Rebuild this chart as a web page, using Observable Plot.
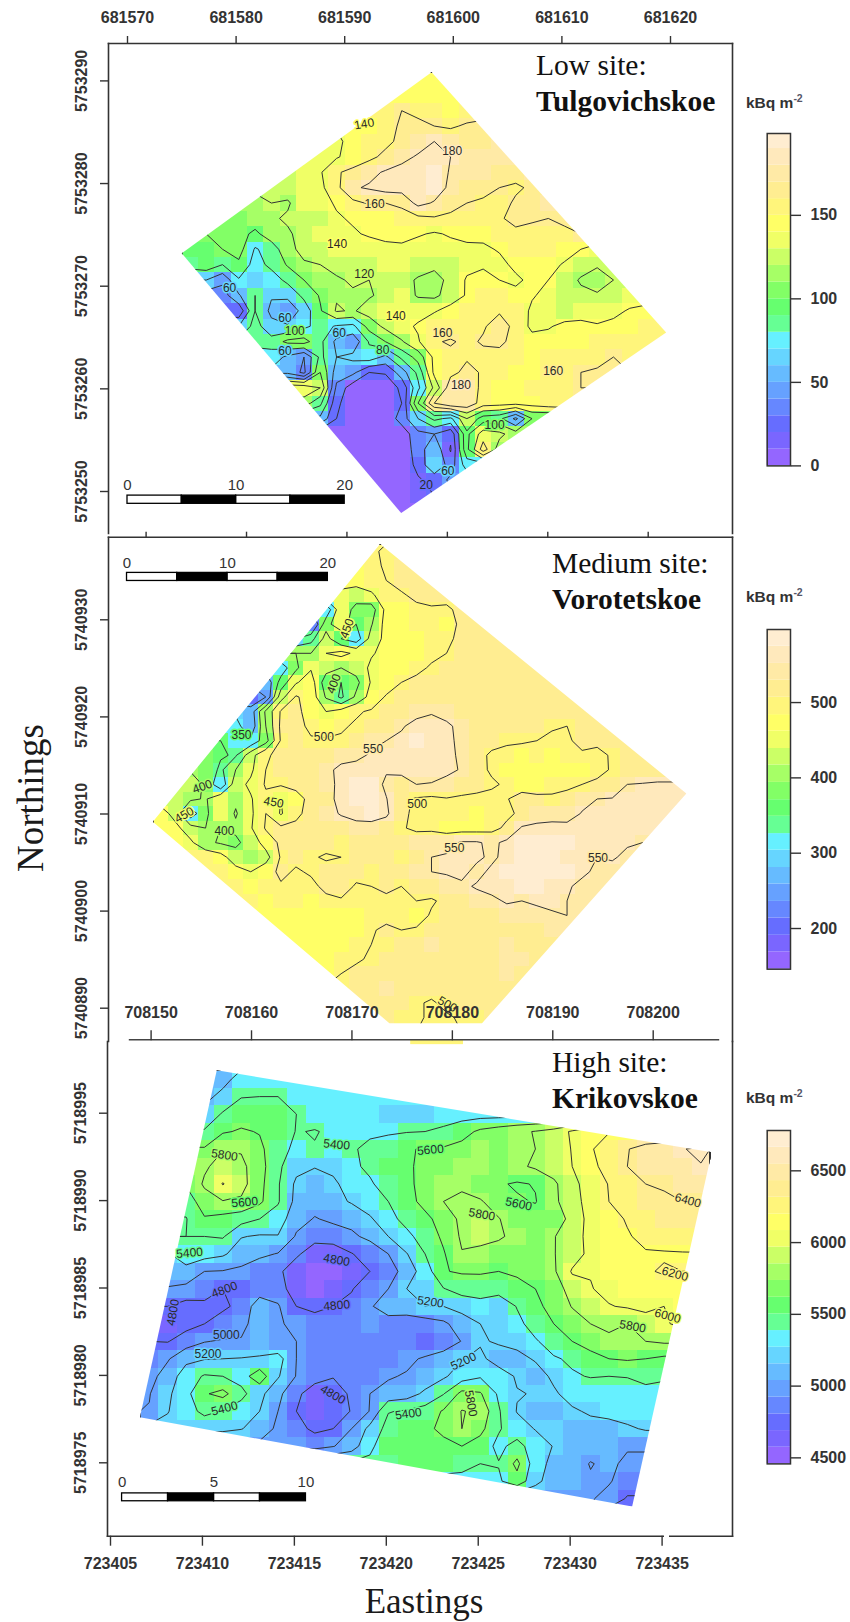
<!DOCTYPE html>
<html><head><meta charset="utf-8">
<script src="https://cdn.jsdelivr.net/npm/d3@7"></script>
<script src="https://cdn.jsdelivr.net/npm/@observablehq/plot@0.6"></script>
<style>
html,body{margin:0;padding:0;background:#fff}
#page{position:relative;width:850px;height:1622px;overflow:hidden;background:#fff}
#page svg{position:absolute;overflow:visible}
.t{position:absolute;white-space:nowrap;font-family:"Liberation Serif",serif;color:#1a1a1a;line-height:1}
.u{position:absolute;white-space:nowrap;font-family:"Liberation Sans",sans-serif;font-weight:bold;font-size:15.5px;color:#333;line-height:16px}
.u sup{font-size:10.5px;line-height:0;color:#556}
</style></head><body><div id="page"></div>
<script>
// colour key, 20 classes
const palette = ["#9466FF","#7A66FF","#666DFF","#6687FF","#66A1FF","#66BBFF","#66D5FF","#66F0FF","#66FF94","#66FF6F","#82FF66","#A6FF66","#CBFF66","#F0FF66","#FFFF66","#FFF57B","#FFED91","#FFEAA6","#FFE9BC","#FFEDD1"];
const lowBreaks = [0,10,20,30,40,50,60,70,80,90,100,110,120,130,140,150,160,170,180,190,199];
const medBreaks = [146,169,191,214,236,259,281,304,326,349,371,394,417,439,462,484,507,530,552,575,597];
const highBreaks = [4458,4574,4690,4806,4923,5039,5155,5271,5387,5503,5619,5736,5852,5968,6084,6200,6316,6432,6549,6665,6781];
const lowKeyTicks = [0,50,100,150];
const medKeyTicks = [200,300,400,500];
const highKeyTicks = [4500,5000,5500,6000,6500];
const lowLevels = [20,40,60,80,100,120,140,160,180];
const medLevels = [200,250,300,350,400,450,500,550];
const highLevels = [4800,5000,5200,5400,5600,5800,6000,6200,6400,6600];

// axis ticks
const lowEast = [681570,681580,681590,681600,681610,681620];
const lowNorth = [5753290,5753280,5753270,5753260,5753250];
const medEast = [708150,708160,708170,708180,708190,708200];
const medNorth = [5740930,5740920,5740910,5740900,5740890];
const highEast = [723405,723410,723415,723420,723425,723430,723435];
const highNorth = [5718995,5718990,5718985,5718980,5718975];

// Low site: kBq/m2 on a 1.5 m grid, north to south; each row begins at column lowStarts[r]
const lowStarts = [14,13,12,10,9,8,6,5,4,2,1,0,0,1,2,3,3,4,5,6,7,7,8,9,10,11,11,12,13];
const lowRows = [
[145,148],
[142,148,140,146],
[150,160,158,150,148,152],
[142,148,155,162,162,160,158,162,165],
[135,148,150,155,165,172,180,170,168,168,170],
[132,138,148,155,165,175,182,188,180,172,170,170,172],
[128,132,138,158,165,175,182,186,186,192,178,172,170,168,165,170],
[125,128,132,135,155,178,182,188,188,188,192,175,168,168,160,158,162],
[112,120,118,130,134,142,155,162,160,165,186,178,168,160,156,155,162,168,172],
[105,108,112,118,122,128,126,138,142,140,148,150,155,158,155,152,150,158,165,162,160,162],
[100,105,108,95,112,118,125,130,135,138,142,145,143,142,138,142,145,146,158,156,155,155,158,160],
[95,98,100,108,78,88,115,125,128,135,134,132,135,138,132,130,134,136,136,142,150,150,150,148,140,130],
[88,92,80,96,72,85,102,118,120,125,128,128,136,130,128,125,128,135,138,134,145,148,146,138,128,122,125],
[60,45,78,68,70,85,100,112,118,122,120,128,126,118,112,126,142,145,140,136,145,140,128,118,112,120],
[30,58,80,62,65,85,102,118,118,118,125,130,118,116,128,142,150,150,146,142,134,128,124,122,128,130],
[25,80,55,45,68,98,122,118,128,132,134,134,138,148,150,152,158,154,136,130,128,132,130,135,142,146],
[60,88,66,62,75,88,78,75,108,125,135,142,155,150,155,158,168,155,135,138,145,145,142,145,148,155,150],
[85,88,105,108,85,55,45,82,100,118,138,158,162,156,162,165,152,148,148,148,146,152,150,158,155],
[72,55,40,85,60,65,72,55,85,108,145,155,158,155,152,150,148,155,150,150,155,160,158],
[55,35,100,50,45,20,22,50,85,145,155,165,158,150,148,148,155,158,160,162,160],
[135,120,35,8,5,5,25,75,125,172,172,155,148,148,150,155,158,160],
[110,85,25,5,3,3,20,100,160,178,175,150,148,146,148,152,155],
[55,20,5,3,3,30,60,85,75,120,90,85,55,100],
[5,3,3,4,6,35,40,25,95,130,125,110],
[3,3,3,6,30,55,18,95,150,110],
[3,3,8,25,60,30,70],
[3,3,8,18,25,45],
[3,5,12,20],
[3]];
const lowCorners = [[681598.0,5753290.85],[681619.6,5753265.5],[681595.2,5753247.9],[681575.0,5753273.2]];
// [easting, northing, contour level, rotation]
const lowLabels = [[681591.8,5753285.8,140,-10],[681592.75,5753278.0,160,0],[681599.9,5753283.2,180,0],[681589.3,5753274.1,140,0],[681591.8,5753271.2,120,0],[681594.7,5753267.1,140,0],[681599.0,5753265.4,160,0],[681579.4,5753269.8,60,0],[681584.5,5753266.9,60,0],[681585.4,5753265.6,100,0],[681584.5,5753263.7,60,0],[681593.5,5753263.8,80,0],[681589.5,5753265.4,60,0],[681600.7,5753260.4,180,0],[681609.2,5753261.7,160,0],[681603.8,5753256.5,100,0],[681597.5,5753250.6,20,0],[681599.5,5753252.0,60,0]];

// Medium site
const medStarts = [14,13,13,12,11,10,9,9,8,7,6,5,5,4,3,2,2,1,0,0,1,2,3,4,6,7,8,9,10,11,12,14,15,16,17];
const medRows = [
[495,505],
[470,490,505,515],
[465,485,500,515,520,518],
[440,430,440,485,495,510,515,520],
[310,440,380,375,465,480,490,495,490,515],
[230,380,440,350,395,470,480,485,485,480,510,515],
[300,330,420,350,320,420,465,475,480,490,490,512,518,520],
[400,400,450,465,440,445,465,475,480,490,500,515,515,520,522],
[320,390,445,420,400,420,460,470,475,490,505,510,515,518,518,520,522,522],
[260,370,445,475,370,350,385,455,475,500,510,515,512,515,518,520,520,522,522,525],
[210,250,430,505,480,395,340,410,470,505,512,515,518,520,522,522,522,522,524,524,525,525],
[290,270,410,505,512,480,450,470,495,505,512,520,535,545,530,525,525,525,522,525,525,525,525,525],
[320,260,400,510,515,490,480,495,505,515,525,545,565,570,560,535,525,522,515,510,515,505,500,515,522],
[350,325,310,380,505,515,505,505,505,525,540,550,560,575,570,570,530,520,510,505,505,500,490,495,510,510,520,525],
[385,355,345,430,495,510,518,518,525,535,540,555,562,570,570,565,565,540,510,495,490,480,485,480,490,495,488,505,520,525],
[395,385,340,400,440,500,510,520,525,540,560,565,560,555,565,565,565,565,545,512,495,480,480,470,470,472,470,485,505,520,525,525],
[430,390,310,430,460,505,505,515,520,530,565,578,578,540,525,550,548,530,525,515,505,495,482,478,490,490,500,510,520,550,552,555,555],
[425,410,395,440,410,445,490,450,480,515,525,572,585,580,552,510,495,490,498,492,490,490,498,515,510,505,515,540,550,552,560,555,560,560,560],
[475,430,320,390,440,395,440,500,445,490,515,530,555,570,575,558,510,490,490,485,490,480,488,490,510,530,530,535,552,555,558,560,558,558,555],
[480,465,420,400,400,410,445,505,510,510,520,525,520,530,530,525,505,490,490,480,480,480,485,510,555,560,565,560,565,560,560,555,560,558],
[480,460,410,395,390,420,470,510,515,520,515,505,515,525,525,525,530,535,535,555,555,540,560,585,590,580,578,565,560,565,555,550],
[490,490,470,420,400,430,505,510,505,495,500,510,520,515,500,525,550,555,560,560,540,565,585,590,590,570,555,550,555,540],
[490,495,470,450,480,510,495,505,515,520,515,505,515,515,530,550,555,565,535,560,580,585,590,590,575,565,535,535],
[495,490,475,490,495,495,490,510,520,495,500,510,500,515,525,530,540,555,565,570,575,575,565,560,530,530],
[485,480,490,485,480,490,495,495,485,490,490,500,495,510,525,530,540,555,550,560,560,550,535],
[470,480,475,480,480,480,480,490,485,490,480,505,515,525,525,525,530,540,530,545,550,535],
[475,470,470,475,475,480,495,510,500,505,515,520,520,520,525,520,520,525,535,535],
[470,470,470,480,490,500,505,510,520,535,520,520,520,520,530,520,525,510],
[465,475,485,495,505,510,510,515,518,518,518,520,520,535,530,515],
[475,500,510,510,515,525,515,515,515,515,515,515,530,525],
[505,510,515,530,515,515,515,515,515,515,515,515],
[510,512,512,505,495,510,512,512,512],
[510,505,505,495,495,505,505,510],
[505,500,495,495,500,505],
[490,490,490,490]];
const medCorners = [[708173.3,5740937.8],[708203.8,5740912.1],[708183.45,5740888.45],[708174.23,5740888.45],[708150.67,5740909.2]];
const medSliver = [[708176.3,5740886.72],[708181.56,5740886.72],[708181.56,5740886.3],[708176.3,5740886.3]];
const medLabels = [[708167.7,5740917.9,500,0],[708172.6,5740916.7,550,0],[708159.5,5740918.1,350,0],[708155.6,5740912.8,400,-20],[708153.8,5740909.9,450,-30],[708157.8,5740908.2,400,0],[708162.7,5740911.2,450,10],[708177.0,5740911.0,500,0],[708180.7,5740906.5,550,0],[708195.0,5740905.5,550,0],[708180.0,5740890.4,500,30],[708168.7,5740923.4,400,-70],[708170.0,5740929.1,450,-70]];

// High site: 1 m grid
const highStarts = [4,3,3,3,3,3,2,2,2,2,1,1,1,1,1,0,0,0,0,0,3,8,13,18,24];
const highRows = [
[5130,5280,5300],
[5140,5260,5390,5400,5400,5300,5300,5290,5290,5290],
[5270,5420,5520,5570,5560,5400,5320,5290,5290,5290,5230,5230,5230,5280,5320],
[5420,5580,5620,5590,5530,5390,5410,5370,5370,5385,5385,5390,5400,5450,5520,5640,5700,5760,5810,5880,6030,6190],
[5620,5790,5780,5640,5480,5350,5390,5350,5390,5420,5460,5580,5620,5620,5670,5780,5730,5750,5800,5890,6010,6180,6300,6390,6480,6520,6590,6640],
[5770,5880,5850,5680,5440,5260,5210,5250,5370,5430,5510,5570,5650,5700,5760,5770,5720,5760,5830,5900,6000,6150,6270,6400,6500,6510,6540,6590],
[5620,5830,6010,5870,5660,5420,5160,5100,5160,5290,5380,5470,5560,5660,5790,5760,5680,5620,5580,5610,5760,5950,6080,6210,6310,6400,6420,6460,6470],
[5480,5710,5790,5770,5640,5420,5140,5060,5130,5220,5320,5400,5530,5660,5800,5850,5820,5700,5620,5590,5750,5940,6060,6200,6300,6350,6370,6400,6420],
[5390,5580,5530,5480,5400,5310,5060,4990,5030,5050,5170,5350,5450,5550,5680,5850,5870,5810,5690,5680,5640,5890,6060,6160,6210,6270,6320,6340,6340],
[5400,5400,5420,5210,5180,5190,4980,4900,4920,4970,5040,5200,5360,5470,5640,5830,5870,5830,5740,5700,5790,5900,6070,6130,6190,6230,6250,6280,6300],
[5180,5320,5280,5230,5100,5040,4990,4850,4640,4650,4790,4890,5000,5190,5400,5580,5790,5740,5700,5640,5650,5790,5910,6050,6110,6170,6190,6190,6190],
[5070,5130,5000,4990,4960,4880,4860,4630,4500,4530,4680,4800,4890,5100,5290,5590,5620,5620,5600,5620,5640,5770,6020,6010,6090,6130,6190,6210,6200],
[4990,4950,4840,4800,4800,4870,4900,4680,4560,4650,4790,4890,5000,5200,5270,5390,5480,5500,5480,5560,5600,5680,5900,5990,6050,6100,6130,6160,6150],
[4800,4720,4780,4780,4830,5140,5020,4800,4750,4800,4840,4980,5090,5120,5200,5200,5270,5320,5260,5410,5550,5670,5810,5960,5990,6020,6060,6000,6090],
[4680,4730,4800,4850,4930,5120,5020,4960,4890,4900,4920,4990,4920,4880,4900,4960,5100,5200,5240,5350,5480,5600,5710,5800,5820,5800,5890,5980,6040],
[4800,4790,4900,4990,5020,5020,5050,5020,5000,4900,4900,4870,4870,4830,4830,4800,4860,5010,5180,5220,5260,5380,5490,5600,5660,5780,5780,5800,5830],
[4870,4980,5150,5190,5200,5210,5230,5280,5000,4890,4880,4870,4830,4830,4950,5030,5110,5190,5240,5120,5140,5220,5380,5430,5550,5600,5620,5600,5560],
[4930,5090,5300,5420,5400,5320,5510,5220,4990,4890,4810,4880,4900,4980,5020,5080,5170,5300,5380,5290,5180,5110,5240,5380,5410,5400,5410,5500,5440],
[4990,5160,5340,5580,5660,5460,5260,5050,4850,4680,4710,4830,5000,5070,5110,5240,5390,5660,5620,5370,5210,5190,5170,5280,5290,5300,5290,5290,5300],
[5010,5190,5320,5450,5390,5300,5200,5000,4800,4660,4700,4810,5010,5390,5420,5480,5620,5810,5760,5420,5190,5120,5120,5170,5230,5280,5290,5300],
[5260,5250,5210,5110,4960,4860,4760,4800,5000,5260,5470,5540,5540,5660,5800,5660,5420,5290,5190,5160,5130,5120,5100,5170,5220],
[4950,4920,4990,5100,5360,5520,5570,5570,5530,5600,5510,5350,5470,5300,5190,5120,5080,5060,5020,5010],
[5440,5560,5550,5530,5490,5400,5410,5650,5290,5140,5080,4990,5040,4960,4980],
[5310,5370,5530,5260,5090,5100,5020,5020,4900],
[5020,4930,4780]];
const highCorners = [[723410.78,5718997.45],[723437.7,5718992.77],[723433.37,5718972.5],[723406.6,5718977.6]];
const highLabels = [[723411.2,5718992.6,5800,8],[723412.3,5718989.9,5600,-5],[723409.3,5718987.0,5400,-5],[723417.3,5718993.2,5400,5],[723422.4,5718992.9,5600,-5],[723425.2,5718989.2,5800,10],[723427.2,5718989.8,5600,12],[723417.3,5718986.6,4800,10],[723417.3,5718984.0,4800,-5],[723411.2,5718984.9,4800,-20],[723422.4,5718984.2,5200,8],[723411.3,5718982.3,5000,0],[723410.3,5718981.2,5200,0],[723411.2,5718978.1,5400,-15],[723417.1,5718978.9,4800,30],[723424.2,5718980.8,5200,-25],[723421.2,5718977.8,5400,-8],[723424.6,5718978.4,5800,80],[723433.4,5718982.8,5800,10],[723435.3,5718983.4,6000,15],[723435.7,5718985.8,6200,15],[723436.4,5718990.0,6400,15],[723408.4,5718983.6,4800,-80]];

// map-scale segments, metres
const lowScaleStops = [0,5,10,15,20];
const medScaleStops = [0,5,10,15,20];
const highScaleStops = [0,2.5,5,7.5,10];
const lowScaleText = [0,10,20];
const medScaleText = [0,10,20];
const highScaleText = [0,5,10];

const page = document.getElementById("page");
const ink = "#333";
const sans = "Liberation Sans, Arial, sans-serif";
const axisText = {fontSize:16, fontWeight:"bold", fontFamily:sans, color:ink, stroke:ink};

function expand(rows, starts, W) {
  const out = [];
  rows.forEach((row, r) => {
    const s = starts[r];
    for (let c = 0; c < W; c++) {
      const i = Math.min(row.length - 1, Math.max(0, c - s));
      out.push(row[i]);
    }
  });
  return out;
}
let clipN = 0;
const clipTo = polys => (index, scales, values, dims, context, next) => {
  const g = next(index, scales, values, dims, context);
  const id = "site-clip-" + (++clipN);
  const cp = d3.create("svg:clipPath").attr("id", id);
  for (const p of polys) cp.append("polygon").attr("points", p.map(([x, y]) => scales.x(x) + "," + scales.y(y)).join(" "));
  g.insertBefore(cp.node(), g.firstChild);
  g.setAttribute("clip-path", "url(#" + id + ")");
  return g;
};
const colorOf = breaks => ({type:"threshold", domain:breaks.slice(1, -1), range:palette});

function mapMarks({rows, starts, W, x1, y1, cell, polys, levels, labels, stops, stopText, barE, barN1, barN2, textN}) {
  const H = rows.length, v = expand(rows, starts, W);
  const bounds = {width:W, height:H, x1, y1, x2:x1 + W*cell, y2:y1 - H*cell};
  const segs = d3.pairs(stops);
  return [
    Plot.raster(v, {...bounds, fill:d => d, imageRendering:"pixelated", render:clipTo(polys)}),
    Plot.contour(v, {...bounds, value:d => d, thresholds:levels, fill:"none", stroke:"#333", strokeWidth:1, render:clipTo(polys)}),
    Plot.text(labels, {x:d => d[0], y:d => d[1], text:d => String(d[2]), rotate:d => d[3], fontSize:12, fontFamily:sans, fill:"#2a2a2a", stroke:d => d[2], strokeWidth:3}),
    Plot.rect(segs.filter((d, i) => i % 2 === 0), {x1:d => barE + d[0], x2:d => barE + d[1], y1:() => barN1, y2:() => barN2, fill:"white", stroke:"black", strokeWidth:1.3}),
    Plot.rect(segs.filter((d, i) => i % 2 === 1), {x1:d => barE + d[0], x2:d => barE + d[1], y1:() => barN1, y2:() => barN2, fill:"black", stroke:"black", strokeWidth:1.3}),
    Plot.text(stopText, {x:d => barE + d, y:() => textN, text:d => String(d), fontSize:15, fontFamily:sans, fill:ink})
  ];
}
function place(svg, left, top) {
  svg.style.left = left + "px"; svg.style.top = top + "px";
  svg.style.background = "transparent"; svg.style.maxWidth = "none";
  page.appendChild(svg);
}
const frameStyle = {stroke:"#333", strokeWidth:1.6};
const fmt = d => String(d);

// Panel 1
place(Plot.plot({
  width:850, height:536, marginTop:43, marginLeft:108, marginRight:118, marginBottom:3,
  x:{domain:[681570,681620], range:[127,670]},
  y:{domain:[5753290,5753250], range:[80.4,491]},
  color:colorOf(lowBreaks),
  marks:[
    ...mapMarks({rows:lowRows, starts:lowStarts, W:30, x1:681575.0, y1:5753290.85, cell:1.5, polys:[lowCorners], levels:lowLevels, labels:lowLabels, stops:lowScaleStops, stopText:lowScaleText, barE:681570, barN1:5753249.6, barN2:5753248.8, textN:5753250.6}),
    Plot.frame({anchor:"top", ...frameStyle}), Plot.frame({anchor:"left", ...frameStyle}), Plot.frame({anchor:"right", ...frameStyle}),
    Plot.axisX(lowEast, {anchor:"top", tickSize:8, tickPadding:13, tickFormat:fmt, label:null, ...axisText, strokeWidth:1.4}),
    Plot.axisY(lowNorth, {anchor:"left", tickSize:8, tickPadding:14, tickRotate:-90, tickFormat:fmt, label:null, ...axisText, strokeWidth:1.4})
  ]
}), 0, 0);

// Panel 2
const medTop = 526;
place(Plot.plot({
  width:850, height:515, marginTop:10.7, marginLeft:108, marginRight:118, marginBottom:0,
  x:{domain:[708150,708200], range:[145.6,647.7]},
  y:{domain:[5740930,5740890], range:[619.3 - medTop, 1007.7 - medTop]},
  color:colorOf(medBreaks),
  marks:[
    ...mapMarks({rows:medRows, starts:medStarts, W:36, x1:708150.67, y1:5740937.8, cell:1.5, polys:[medCorners, medSliver], levels:medLevels, labels:medLabels, stops:medScaleStops, stopText:medScaleText, barE:708148.1, barN1:5740934.83, barN2:5740934.0, textN:5740935.85}),
    Plot.frame({anchor:"top", ...frameStyle}), Plot.frame({anchor:"left", ...frameStyle}), Plot.frame({anchor:"right", ...frameStyle}),
    Plot.axisX(medEast, {anchor:"top", tickSize:6, tickFormat:() => "", label:null, strokeWidth:1.4, stroke:ink}),
    Plot.axisY(medNorth, {anchor:"left", tickSize:8, tickPadding:14, tickRotate:-90, tickFormat:fmt, label:null, ...axisText, strokeWidth:1.4})
  ]
}), 0, medTop);

// Panel 2 lower axis, drawn on its own strip
place(Plot.plot({
  width:850, height:42, marginTop:37.3, marginLeft:129, marginRight:132, marginBottom:0,
  x:{domain:[708150,708200], range:[145.6,647.7]},
  marks:[
    Plot.frame({anchor:"top", stroke:"#444", strokeWidth:1.4}),
    Plot.axisX(medEast, {anchor:"top", tickSize:10, tickPadding:12, dx:5, tickFormat:fmt, label:null, ...axisText, strokeWidth:1.4})
  ]
}), 0, 1002);

// Panel 3
const highTop = 1041;
place(Plot.plot({
  width:850, height:581, marginTop:0, marginLeft:107, marginRight:118, marginBottom:86.3,
  x:{domain:[723405,723435], range:[110,661.6]},
  y:{domain:[5718995,5718975], range:[1112.7 - highTop, 1462.3 - highTop]},
  color:colorOf(highBreaks),
  marks:[
    ...mapMarks({rows:highRows, starts:highStarts, W:31, x1:723406.61, y1:5718997.45, cell:1, polys:[highCorners], levels:highLevels, labels:highLabels, stops:highScaleStops, stopText:highScaleText, barE:723405.63, barN1:5718973.25, barN2:5718972.8, textN:5718973.9}),
    Plot.frame({anchor:"bottom", ...frameStyle}), Plot.frame({anchor:"left", ...frameStyle}), Plot.frame({anchor:"right", ...frameStyle}),
    Plot.axisX(highEast, {anchor:"bottom", tickSize:10, tickPadding:11, tickFormat:fmt, label:null, ...axisText, strokeWidth:1.4}),
    Plot.axisY(highNorth, {anchor:"left", tickSize:8, tickPadding:14, tickRotate:-90, tickFormat:fmt, label:null, ...axisText, strokeWidth:1.4})
  ]
}), 0, highTop);

// Colour keys
function key(breaks, ticks, top, bottom) {
  const pad = 14, h = bottom - top + pad*2;
  place(Plot.plot({
    width:110, height:h, marginTop:pad, marginBottom:pad, marginLeft:26.7, marginRight:60,
    y:{domain:[breaks[0], breaks[20]], range:[h - pad, pad]},
    color:colorOf(breaks),
    marks:[
      Plot.rectY(d3.pairs(breaks), {y1:d => d[0], y2:d => d[1], fill:d => (d[0]+d[1])/2}),
      Plot.frame({stroke:"#333", strokeWidth:1.5}),
      Plot.axisY(ticks, {anchor:"right", tickSize:10, tickPadding:10, tickFormat:fmt, label:null, ...axisText, strokeWidth:1.4})
    ]
  }), 740, top - pad);
}
key(lowBreaks, lowKeyTicks, 133.3, 465.7);
key(medBreaks, medKeyTicks, 629, 968.7);
key(highBreaks, highKeyTicks, 1130.3, 1463.7);

// Text outside the plots
function addText(cls, html, css) {
  const d = document.createElement("div");
  d.className = cls; d.innerHTML = html; Object.assign(d.style, css); page.appendChild(d);
}
const title = (txt, left, base, bold) => addText("t", txt, {left:left+"px", top:(base-25)+"px", fontSize:"29.5px", lineHeight:"33px", fontWeight:bold?"bold":"normal", color:"#111"});
title("Low site:", 536, 74); title("Tulgovichskoe", 536, 109.5, true);
title("Medium site:", 552, 572.3); title("Vorotetskoe", 552, 608, true);
title("High site:", 552, 1071.3); title("Krikovskoe", 552, 1107.3, true);
for (const base of [108, 601.7, 1103]) addText("u", "kBq m<sup>-2</sup>", {left:"746px", top:(base-13)+"px"});
addText("t", "Northings", {left:"30px", top:"798px", fontSize:"37px", transform:"translate(-50%,-50%) rotate(-90deg)"});
addText("t", "Eastings", {left:"424px", top:"1601px", fontSize:"35px", transform:"translate(-50%,-50%)"});
const gap = document.createElement("div");
Object.assign(gap.style, {position:"absolute", left:"664px", top:"1533px", width:"5px", height:"6px", background:"#fff"});
page.appendChild(gap);
</script></body></html>
